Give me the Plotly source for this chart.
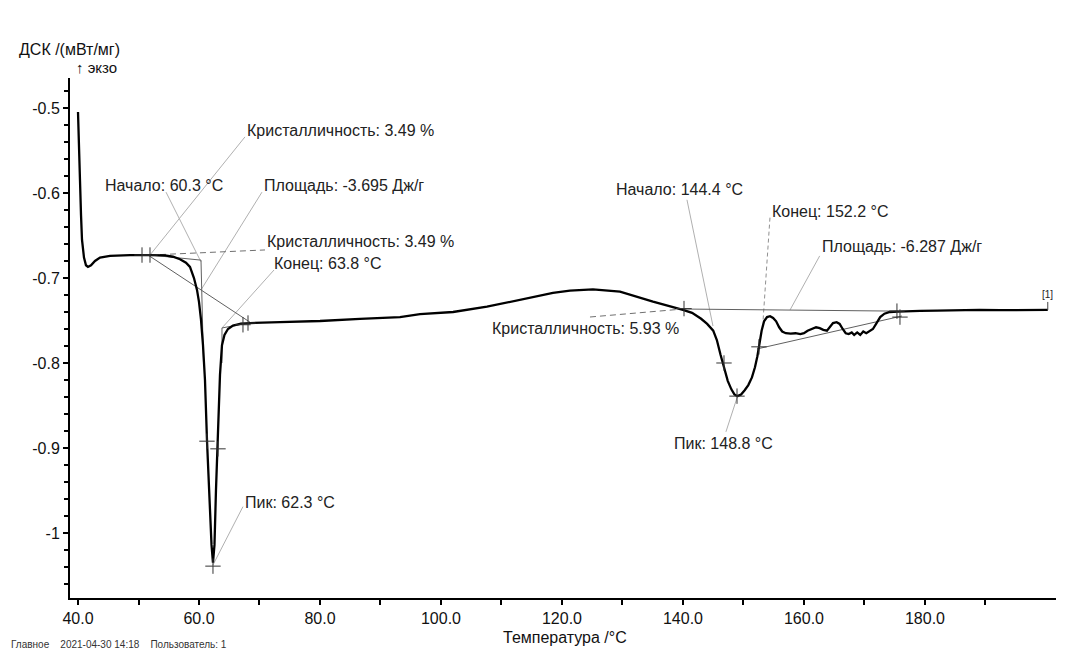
import plotly.graph_objects as go

# ---------------- data ----------------
temp = [40.00, 40.17, 40.33, 40.50, 40.66, 40.99, 41.32, 41.65, 42.15, 42.81, 43.64, 45.29,
        48.60, 51.90, 54.38, 55.70, 56.86, 57.85, 58.51, 59.17, 59.67, 60.00, 60.33, 60.66,
        60.99, 61.32, 61.74, 62.07, 62.31, 62.56, 62.81, 63.14, 63.47, 63.80, 64.21, 64.79,
        65.62, 66.78, 68.43, 73.39, 80.00, 86.61, 93.22, 96.53, 102.0, 107.6, 113.06, 118.51,
        121.32, 125.12, 129.59, 135.04, 140.0, 141.5, 143.0, 144.0, 145.0, 145.6, 146.2,
        146.8, 147.4, 148.0, 148.5, 149.0, 149.6, 150.2, 150.8, 151.4, 151.9, 152.3, 152.7,
        153.0, 153.4, 153.9, 154.4, 154.9, 155.4, 155.9, 156.4, 157.0, 157.8, 158.6, 159.4,
        160.0, 160.6, 161.3, 162.0, 162.6, 163.2, 163.8, 164.3, 164.8, 165.4, 165.9, 166.4,
        166.9, 167.4, 167.9, 168.3, 168.8, 169.3, 169.8, 170.3, 170.8, 171.4, 172.0, 172.6,
        173.3, 174.2, 175.5, 177.0, 179.2, 182.0, 185.8, 189.0, 192.4, 196.0, 200.3]
dsc = [-0.5047, -0.5376, -0.585, -0.626, -0.655, -0.676, -0.685, -0.687, -0.685, -0.680,
       -0.676, -0.674, -0.673, -0.673, -0.6735, -0.675, -0.678, -0.682, -0.687, -0.700,
       -0.714, -0.728, -0.749, -0.779, -0.820, -0.891, -0.961, -1.014, -1.035, -1.014,
       -0.949, -0.879, -0.814, -0.779, -0.767, -0.760, -0.756, -0.754, -0.753, -0.752,
       -0.7506, -0.748, -0.746, -0.7424, -0.740, -0.7338, -0.7259, -0.7176, -0.7149,
       -0.7133, -0.7161, -0.7279, -0.7376, -0.741, -0.748, -0.754, -0.762, -0.773, -0.790,
       -0.806, -0.821, -0.831, -0.837, -0.839, -0.837, -0.832, -0.826, -0.817, -0.805,
       -0.792, -0.775, -0.762, -0.751, -0.746, -0.745, -0.747, -0.751, -0.758, -0.763,
       -0.765, -0.7655, -0.765, -0.766, -0.765, -0.762, -0.760, -0.758, -0.759, -0.761,
       -0.762, -0.757, -0.753, -0.752, -0.754, -0.760, -0.765, -0.766, -0.764, -0.767,
       -0.764, -0.767, -0.763, -0.765, -0.763, -0.760, -0.753, -0.746, -0.742, -0.740,
       -0.7395, -0.739, -0.7388, -0.7384, -0.7378, -0.7376, -0.7378, -0.7376, -0.7376]

x_tick_vals = [40, 60, 80, 100, 120, 140, 160, 180]
x_tick_text = ["40.0", "60.0", "80.0", "100.0", "120.0", "140.0", "160.0", "180.0"]
x_minor_vals = [50, 70, 90, 110, 130, 150, 170, 190]
y_tick_vals = [-0.5, -0.6, -0.7, -0.8, -0.9, -1.0]
y_tick_text = ["-0.5", "-0.6", "-0.7", "-0.8", "-0.9", "-1"]
y_minor_vals = [-0.48, -0.52, -0.54, -0.56, -0.58, -0.62, -0.64, -0.66, -0.68, -0.72,
                -0.74, -0.76, -0.78, -0.82, -0.84, -0.86, -0.88, -0.92, -0.94, -0.96,
                -0.98, -1.02, -1.04, -1.06]

# evaluation marks (+)
cross_temp = [50.58, 51.90, 67.27, 68.10, 61.32, 63.14, 62.31,
              140.17, 146.78, 148.93, 152.56, 175.37, 175.87]
cross_dsc = [-0.673, -0.673, -0.755, -0.753, -0.892, -0.901, -1.039,
             -0.736, -0.800, -0.839, -0.781, -0.739, -0.746]

# evaluation construction lines (dark), each a list of (T, V)
construction_lines = [
    [(51.57, -0.673), (68.43, -0.752)],
    [(51.90, -0.673), (60.33, -0.679), (60.75, -0.80)],
    [(63.80, -0.80), (63.80, -0.7588), (68.10, -0.753)],
    [(140.0, -0.7365), (175.54, -0.739)],
    [(152.23, -0.7835), (176.20, -0.7447)],
]
# dashed lines to crystallinity labels
dashed_lines = [
    [(51.90, -0.673), (70.91, -0.667)],
    [(124.63, -0.7459), (140.0, -0.7365)],
]
# leader lines from labels (light grey)
leader_lines = [
    [(51.90, -0.673), (67.60, -0.534)],
    [(54.55, -0.599), (60.33, -0.681)],
    [(70.41, -0.599), (60.33, -0.714)],
    [(72.40, -0.6906), (63.80, -0.7588)],
    [(67.27, -0.969), (62.31, -1.0376)],
    [(140.66, -0.608), (144.96, -0.7565)],
    [(162.60, -0.674), (157.70, -0.7376)],
    [(147.10, -0.881), (148.93, -0.841)],
]
leader_dashed = [
    [(154.38, -0.629), (153.22, -0.752)],
]

label_text = ["Кристалличность: 3.49 %", "Начало: 60.3 °C", "Площадь: -3.695 Дж/г",
              "Кристалличность: 3.49 %", "Конец: 63.8 °C", "Пик: 62.3 °C",
              "Начало: 144.4 °C", "Конец: 152.2 °C", "Площадь: -6.287 Дж/г",
              "Кристалличность: 5.93 %", "Пик: 148.8 °C"]
label_temp = [67.60, 44.13, 70.41, 70.91, 72.07, 67.27, 128.60, 154.38, 162.64, 108.10, 138.18]
label_dsc = [-0.5259, -0.5906, -0.5906, -0.6565, -0.6835, -0.9647, -0.5953, -0.6212,
             -0.6635, -0.760, -0.8953]

FONT = "Liberation Sans, Arial, sans-serif"


def seg_xy(lines):
    xs, ys = [], []
    for ln in lines:
        for t, v in ln:
            xs.append(t)
            ys.append(v)
        xs.append(None)
        ys.append(None)
    return xs, ys


fig = go.Figure()

lx, ly = seg_xy(leader_lines)
fig.add_trace(go.Scatter(x=lx, y=ly, mode="lines", line=dict(color="#b0b0b0", width=1),
                         hoverinfo="skip", showlegend=False))
lx, ly = seg_xy(leader_dashed)
fig.add_trace(go.Scatter(x=lx, y=ly, mode="lines",
                         line=dict(color="#909090", width=1, dash="4px,3px"),
                         hoverinfo="skip", showlegend=False))
lx, ly = seg_xy(dashed_lines)
fig.add_trace(go.Scatter(x=lx, y=ly, mode="lines",
                         line=dict(color="#707070", width=1, dash="6px,4px"),
                         hoverinfo="skip", showlegend=False))
lx, ly = seg_xy(construction_lines)
fig.add_trace(go.Scatter(x=lx, y=ly, mode="lines", line=dict(color="#606060", width=1),
                         hoverinfo="skip", showlegend=False))

fig.add_trace(go.Scatter(x=temp, y=dsc, mode="lines", line=dict(color="black", width=2.3),
                         showlegend=False))

fig.add_trace(go.Scatter(x=cross_temp, y=cross_dsc, mode="markers",
                         marker=dict(symbol="cross-thin", size=11,
                                     line=dict(color="#333333", width=1)),
                         hoverinfo="skip", showlegend=False))

for txt, t, v in zip(label_text, label_temp, label_dsc):
    fig.add_annotation(x=t, y=v, text=txt, showarrow=False, xanchor="left", yanchor="middle",
                       font=dict(family=FONT, size=16, color="#222"))

# curve label [1]
fig.add_annotation(x=temp[-1], y=dsc[-1], text="[1]", showarrow=True, arrowhead=0,
                   arrowwidth=1, arrowcolor="#444", ax=0, ay=-8, yanchor="bottom",
                   font=dict(family=FONT, size=10, color="#222"))

# axis titles & footer
fig.add_annotation(xref="paper", yref="paper", x=-0.054, y=1.054, text="ДСК /(мВт/мг)",
                   showarrow=False, xanchor="left", yanchor="middle",
                   font=dict(family=FONT, size=16, color="#111"))
fig.add_annotation(xref="paper", yref="paper", x=0.004, y=1.021, text="↑ экзо",
                   showarrow=False, xanchor="left", yanchor="middle",
                   font=dict(family=FONT, size=15, color="#111"))
fig.add_annotation(xref="paper", yref="paper", x=0.502, y=-0.076, text="Температура /°C",
                   showarrow=False, xanchor="center", yanchor="middle",
                   font=dict(family=FONT, size=16, color="#111"))
fig.add_annotation(xref="paper", yref="paper", x=-0.062, y=-0.0895,
                   text="Главное&nbsp;&nbsp;&nbsp;&nbsp;2021-04-30 14:18&nbsp;&nbsp;&nbsp;&nbsp;Пользователь: 1",
                   showarrow=False, xanchor="left", yanchor="middle",
                   font=dict(family=FONT, size=10, color="#333"))

# the page body adds an 8px offset, so the figure is 8px smaller on each side used
fig.update_layout(
    width=1060, height=643, autosize=False,
    margin=dict(l=62, r=12, t=70, b=53),
    paper_bgcolor="white", plot_bgcolor="white",
    font=dict(family=FONT, size=16, color="#111"),
    xaxis=dict(range=[38.678, 201.66], showgrid=False, zeroline=False,
               showline=True, linecolor="black", linewidth=2,
               ticks="outside", ticklen=5, tickwidth=1.5, tickcolor="black",
               tickmode="array", tickvals=x_tick_vals, ticktext=x_tick_text,
               minor=dict(tickmode="array", tickvals=x_minor_vals, ticks="outside",
                          ticklen=5, tickwidth=1.5, tickcolor="black"),
               tickfont=dict(family=FONT, size=16, color="#111")),
    yaxis=dict(range=[-1.0765, -0.4647], showgrid=False, zeroline=False,
               showline=True, linecolor="black", linewidth=2,
               ticks="outside", ticklen=5, tickwidth=1.5, tickcolor="black",
               tickmode="array", tickvals=y_tick_vals, ticktext=y_tick_text,
               minor=dict(tickmode="array", tickvals=y_minor_vals, ticks="outside",
                          ticklen=4, tickwidth=1.5, tickcolor="black"),
               tickfont=dict(family=FONT, size=16, color="#111")),
)

fig.write_html("out.html")
